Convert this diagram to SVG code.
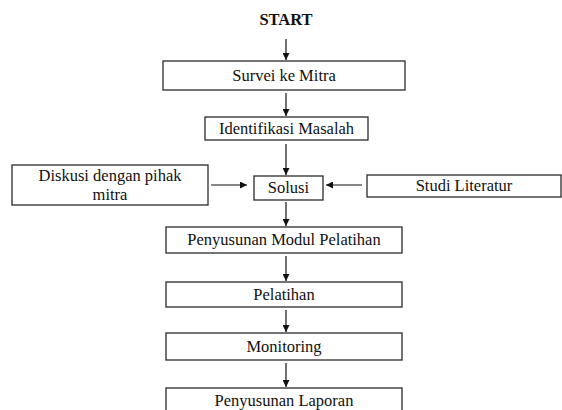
<svg xmlns="http://www.w3.org/2000/svg" width="562" height="410" viewBox="0 0 562 410">
<style>
.box{fill:#fff;stroke:#2a2a2a;stroke-width:1.3}
text{font-family:'Liberation Serif','Times New Roman',Times,'DejaVu Serif',serif;font-size:16.5px;fill:#111;text-anchor:middle}
.b{font-weight:bold}
.c{stroke:#111;stroke-width:1.2;fill:none}
</style>
<defs>
<marker id="ah" viewBox="0 0 10 10" refX="10" refY="5" markerWidth="8" markerHeight="7" markerUnits="userSpaceOnUse" orient="auto">
<path d="M0,0 L10,5 L0,10 Z" fill="#111"/>
</marker>
</defs>
<rect width="562" height="410" fill="#fff"/>
<g id="start"><text class="b" x="286" y="25" font-family="Liberation Serif">START</text></g>
<g id="survei"><rect class="box" x="163" y="61" width="242" height="29"/><text x="284" y="81" font-family="Liberation Serif">Survei ke Mitra</text></g>
<g id="identifikasi"><rect class="box" x="205" y="117" width="163" height="23"/><text x="286.5" y="134" font-family="Liberation Serif">Identifikasi Masalah</text></g>
<g id="diskusi"><rect class="box" x="12" y="165" width="196" height="40"/><text x="110" y="181" font-family="Liberation Serif">Diskusi dengan pihak</text><text x="110" y="200" font-family="Liberation Serif">mitra</text></g>
<g id="solusi"><rect class="box" x="254" y="176" width="69" height="24"/><text x="288.5" y="193" font-family="Liberation Serif">Solusi</text></g>
<g id="studi"><rect class="box" x="367" y="175" width="194" height="22"/><text x="464" y="191" font-family="Liberation Serif">Studi Literatur</text></g>
<g id="modul"><rect class="box" x="166" y="227" width="236" height="26"/><text x="284" y="245" font-family="Liberation Serif">Penyusunan Modul Pelatihan</text></g>
<g id="pelatihan"><rect class="box" x="166" y="282" width="236" height="25"/><text x="284" y="300" font-family="Liberation Serif">Pelatihan</text></g>
<g id="monitoring"><rect class="box" x="166" y="333" width="236" height="27"/><text x="284" y="352" font-family="Liberation Serif">Monitoring</text></g>
<g id="laporan"><rect class="box" x="166" y="388" width="236" height="30"/><text x="284" y="406" font-family="Liberation Serif">Penyusunan Laporan</text></g>
<g id="connectors">
<line class="c" x1="286" y1="39" x2="286" y2="60" marker-end="url(#ah)"/>
<line class="c" x1="286" y1="93" x2="286" y2="116" marker-end="url(#ah)"/>
<line class="c" x1="286" y1="144" x2="286" y2="175" marker-end="url(#ah)"/>
<line class="c" x1="211" y1="185" x2="247" y2="185" marker-end="url(#ah)"/>
<line class="c" x1="362" y1="185" x2="326" y2="185" marker-end="url(#ah)"/>
<line class="c" x1="286" y1="202" x2="286" y2="226" marker-end="url(#ah)"/>
<line class="c" x1="286" y1="256" x2="286" y2="281" marker-end="url(#ah)"/>
<line class="c" x1="286" y1="310" x2="286" y2="332" marker-end="url(#ah)"/>
<line class="c" x1="286" y1="363" x2="286" y2="387" marker-end="url(#ah)"/>
</g>
</svg>
